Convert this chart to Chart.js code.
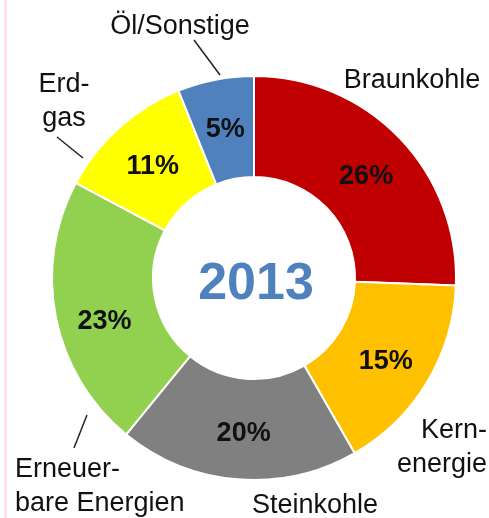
<!DOCTYPE html>
<html>
<head>
<meta charset="utf-8">
<script src="https://cdn.jsdelivr.net/npm/chart.js@4"></script>
<style>
  html, body { margin: 0; padding: 0; background: #fff; }
  #wrap { position: relative; width: 489px; height: 518px; }
  #edge { position: absolute; left: 4px; top: 0; width: 3px; height: 518px; background: #fbe4e4; }
  canvas { position: absolute; left: 0; top: 0; }
</style>
</head>
<body>
<div id="wrap">
  <div id="edge"></div>
  <canvas id="mixChart" width="489" height="518"></canvas>
</div>
<script>
const categories = ['Braunkohle', 'Kernenergie', 'Steinkohle', 'Erneuerbare Energien', 'Erdgas', 'Öl/Sonstige'];
const sliceValues = [25.6, 16.1, 19.2, 21.9, 11.1, 6.1];
// percentages as printed on the slices
const shareLabels = ['26%', '15%', '20%', '23%', '11%', '5%'];
const sliceColors = ['#c00000', '#ffc000', '#808080', '#92d050', '#ffff00', '#4f81bd'];
const yearLabel = '2013';

// small nudges for the in-slice percentages (the source places them by hand)
const labelNudge = [[3, 4], [2, 5], [2, 5], [-1, 14], [0, 1], [0, 0]];

// outside labels: lines of text, anchor position, alignment, optional leader line
const outsideLabels = [
    { lines: ['Braunkohle'], x: 412, y: 88, align: 'center' },
    { lines: ['Kern-', 'energie'], x: 487, y: 438, align: 'right' },
    { lines: ['Steinkohle'], x: 315, y: 513, align: 'center' },
    { lines: ['Erneuer-', 'bare Energien'], x: 15, y: 477, align: 'left', leader: [87, 415, 74, 448] },
    { lines: ['Erd-', 'gas'], x: 64, y: 92, align: 'center', leader: [57, 137, 83, 158] },
    { lines: ['Öl/Sonstige'], x: 180, y: 34, align: 'center', leader: [194, 40, 220, 75] }
];

const labelPlugin = {
    id: 'mixLabels',
    afterDatasetsDraw(chart) {
        const ctx = chart.ctx;
        const meta = chart.getDatasetMeta(0);
        ctx.save();
        ctx.textAlign = 'center';
        ctx.textBaseline = 'middle';
        ctx.fillStyle = '#111';
        ctx.font = 'bold 27px "Liberation Sans", Arial, sans-serif';
        meta.data.forEach(function(arc, i) {
            const pos = arc.tooltipPosition();
            ctx.fillText(shareLabels[i], pos.x + labelNudge[i][0], pos.y + labelNudge[i][1]);
        });

        const first = meta.data[0];
        ctx.fillStyle = '#4f81bd';
        ctx.font = 'bold 52px "Liberation Sans", Arial, sans-serif';
        ctx.fillText(yearLabel, first.x + 2, first.y + 7);

        ctx.fillStyle = '#111';
        ctx.font = '27px "Liberation Sans", Arial, sans-serif';
        ctx.textBaseline = 'alphabetic';
        ctx.strokeStyle = '#222';
        ctx.lineWidth = 1.5;
        outsideLabels.forEach(function(lab) {
            ctx.textAlign = lab.align;
            lab.lines.forEach(function(t, k) {
                ctx.fillText(t, lab.x, lab.y + k * 34);
            });
            if (lab.leader) {
                ctx.beginPath();
                ctx.moveTo(lab.leader[0], lab.leader[1]);
                ctx.lineTo(lab.leader[2], lab.leader[3]);
                ctx.stroke();
            }
        });
        ctx.restore();
    }
};

const mixChart = new Chart(document.getElementById('mixChart').getContext('2d'), {
    type: 'doughnut',
    data: {
        labels: categories,
        datasets: [{
            data: sliceValues,
            backgroundColor: sliceColors,
            borderColor: '#ffffff',
            borderWidth: 2
        }]
    },
    options: {
        responsive: false,
        animation: false,
        cutout: '50%',
        layout: {
            padding: { left: 51, right: 32, top: 75, bottom: 37 }
        },
        plugins: {
            legend: { display: false },
            tooltip: { enabled: false }
        }
    },
    plugins: [labelPlugin]
});
</script>
</body>
</html>
